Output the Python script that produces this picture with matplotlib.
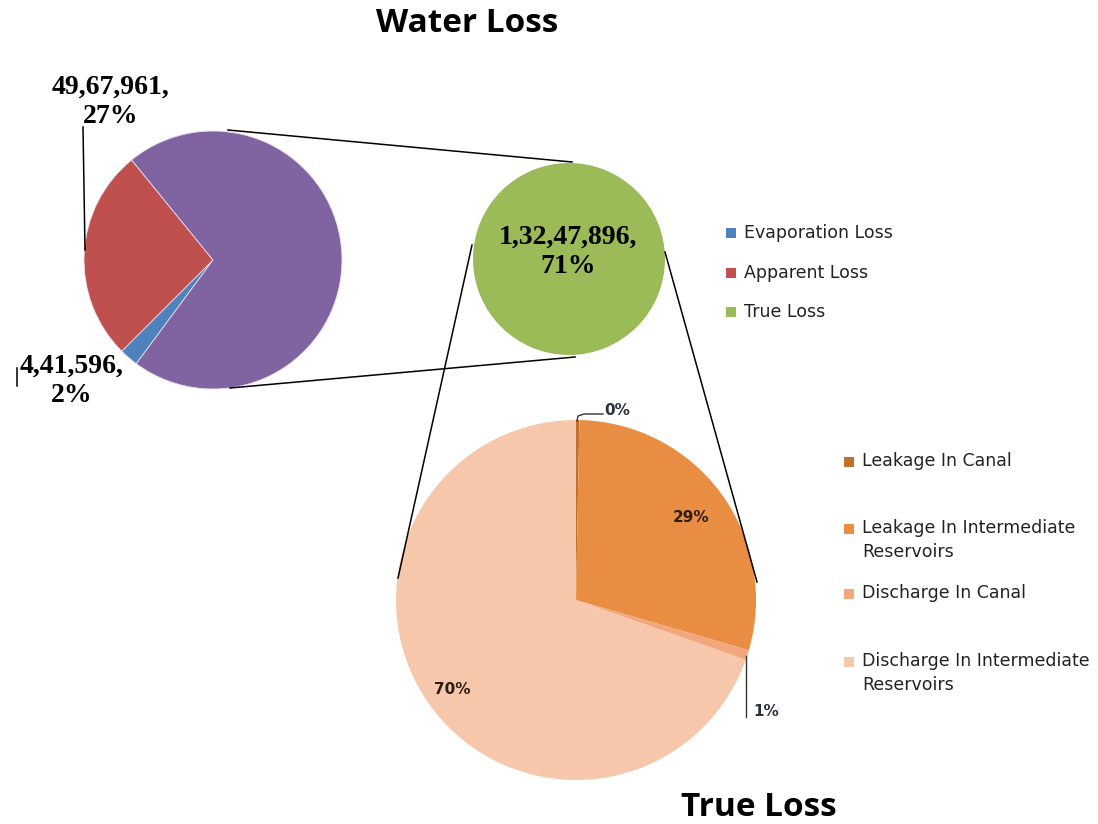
import matplotlib.pyplot as plt

# water loss (m3)
loss_labels = ['Evaporation Loss', 'Apparent Loss', 'True Loss']
loss_values = [441596, 4967961, 13247896]
loss_text = ['4,41,596', '49,67,961', '1,32,47,896']
loss_pie_colors = ['#4F81BD', '#C0504D', '#8064A2']
loss_legend_colors = ['#4F81BD', '#C0504D', '#9BBB59']

# breakdown of true loss (share, %)
true_labels = ['Leakage In Canal', 'Leakage In Intermediate\nReservoirs',
               'Discharge In Canal', 'Discharge In Intermediate\nReservoirs']
true_values = [0.3, 29.2, 0.9, 69.6]
true_colors = ['#C0702F', '#E98D42', '#F3A77C', '#F7C7AC']

W, H = 1098, 824


def Y(y):
    # pixel row -> data y
    return H - y


fig = plt.figure(figsize=(W / 100, H / 100), dpi=100)
ax = fig.add_axes([0, 0, 1, 1])

total = sum(loss_values)
pct = [v / total * 100 for v in loss_values]

# main pie
ax.pie(loss_values, colors=loss_pie_colors, center=(213, Y(260)), radius=129,
       startangle=233.5, counterclock=False,
       wedgeprops=dict(edgecolor='#e8e0f0', linewidth=0.6))
# true loss as a single pie
ax.pie([loss_values[2]], colors=[loss_legend_colors[2]], center=(569, Y(259)), radius=96,
       wedgeprops=dict(linewidth=0))
# true loss breakdown
wedges, _ = ax.pie(true_values, colors=true_colors, center=(576, Y(600)), radius=180,
                   startangle=90, counterclock=False,
                   wedgeprops=dict(linewidth=0))

# connector lines
for (x1, y1), (x2, y2) in [((228, 130), (572, 162)), ((230, 388), (575, 357)),
                           ((472, 245), (398, 578)), ((665, 252), (757, 582))]:
    ax.plot([x1, x2], [Y(y1), Y(y2)], color='black', lw=1.1)

serif = dict(family='Liberation Serif', fontweight='bold', fontsize=20, ha='center',
             va='center', linespacing=1.2)
ax.text(111, Y(102), f'{loss_text[1]},\n{pct[1]:.0f}%', **serif)
ax.text(72, Y(381), f'{loss_text[0]},\n{pct[0]:.0f}%', **serif)
ax.text(568, Y(252), f'{loss_text[2]},\n{pct[2]:.0f}%', **serif)
ax.plot([83, 85], [Y(127), Y(250)], color='black', lw=1.1)
ax.plot([17, 17], [Y(368), Y(386)], color='black', lw=1.1)

# percentage labels of breakdown
tsum = sum(true_values)
pfont = dict(family='DejaVu Sans', fontweight='bold', fontsize=11, ha='center', va='center')
ax.text(691, Y(518), f'{true_values[1] / tsum * 100:.0f}%', color='#2b1d12', **pfont)
ax.text(452, Y(690), f'{true_values[3] / tsum * 100:.0f}%', color='#2b1d12', **pfont)
ax.text(617, Y(410), f'{true_values[0] / tsum * 100:.0f}%', color='#2a3040', **pfont)
ax.text(766, Y(711), f'{true_values[2] / tsum * 100:.0f}%', color='#2a3040', **pfont)
ax.plot([577, 578, 584, 603], [Y(421), Y(416), Y(414), Y(414)], color='#333333', lw=1)
ax.plot([746, 746], [Y(656), Y(717)], color='#333333', lw=1)

# legends
for i, (lab, col) in enumerate(zip(loss_labels, loss_legend_colors)):
    yy = Y(233 + i * 39.5)
    ax.scatter([731], [yy], marker='s', s=60, color=col, linewidths=0)
    ax.text(744, yy, lab, fontsize=12.5, color='#222222', va='center', ha='left')

for yy, lab, col in zip([462, 529, 594, 662], true_labels, true_colors):
    ax.scatter([849], [Y(yy)], marker='s', s=60, color=col, linewidths=0)
    ax.text(862, Y(yy - 10), lab, fontsize=12.5, color='#222222', va='top', ha='left',
            linespacing=1.45)

# titles
ax.text(467, Y(23), 'Water Loss', family='Open Sans', fontweight='bold', fontsize=24,
        ha='center', va='center')
ax.text(759, Y(807), 'True Loss', family='Open Sans', fontweight='bold', fontsize=24,
        ha='center', va='center')

ax.set_xlim(0, W)
ax.set_ylim(0, H)
ax.set_aspect('equal')
ax.axis('off')

fig.savefig('out.png', dpi=100)
